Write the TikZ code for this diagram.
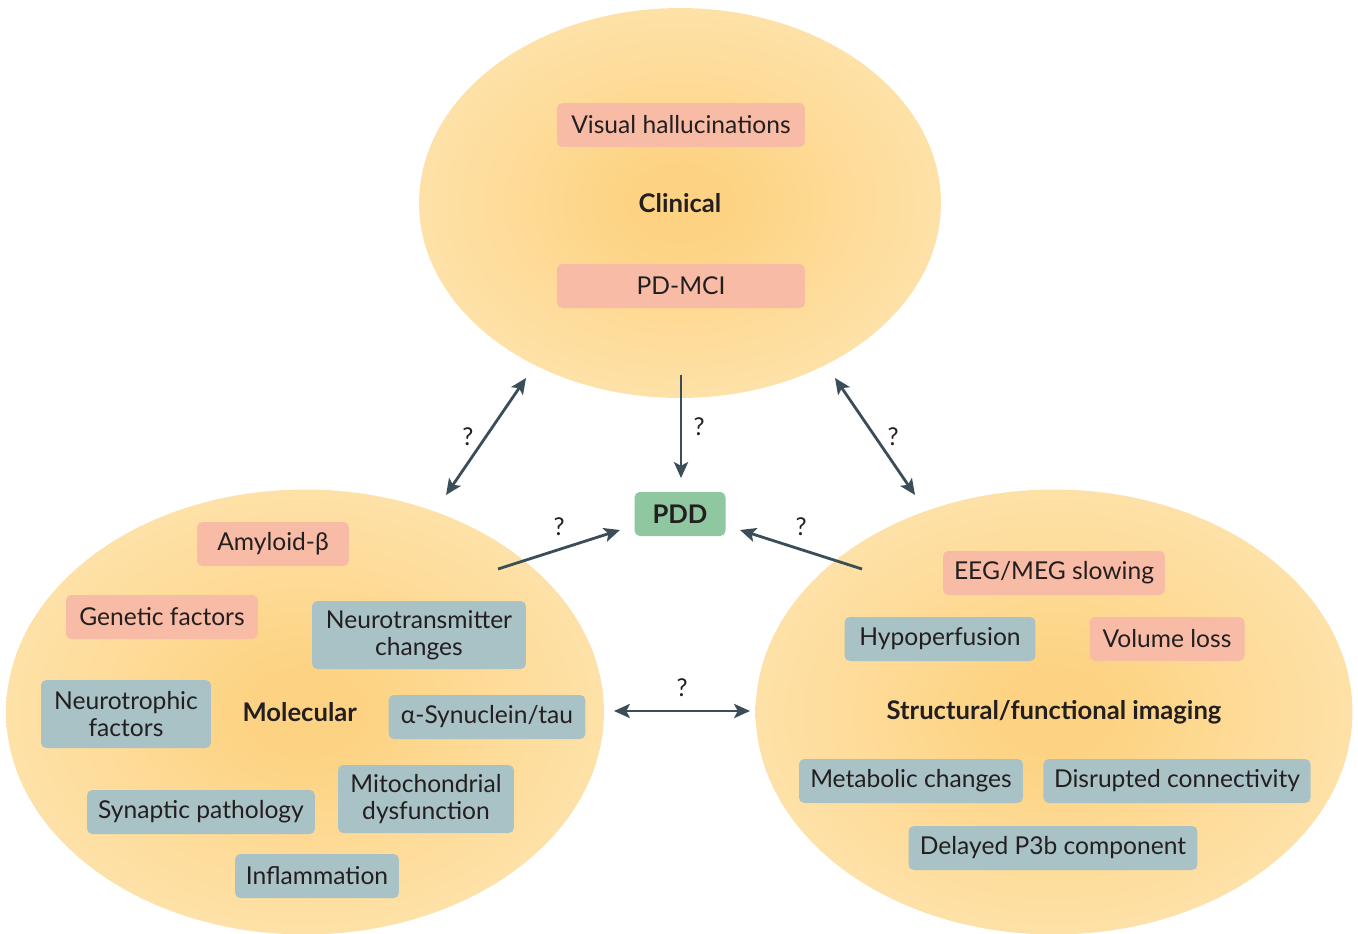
\documentclass[tikz,border=0pt]{standalone}
\usepackage{fontspec}
\setmainfont{Lato}
\usepackage{tikz}
\usetikzlibrary{arrows.meta,shapes.geometric,positioning}

\definecolor{glowIn}{HTML}{FDD383}
\definecolor{glowOut}{HTML}{FFEDC6}
\definecolor{salmon}{HTML}{F8BBA5}
\definecolor{slate}{HTML}{A9C2C5}
\definecolor{pddGreen}{HTML}{8EC7A0}
\definecolor{arrowInk}{HTML}{3B4D58}
\definecolor{ink}{HTML}{231F20}

\pgfdeclareradialshading{glow}{\pgfpoint{0bp}{0bp}}{%
  color(0bp)=(glowIn); color(5bp)=(glowIn);
  color(25bp)=(glowIn!45!glowOut); color(45bp)=(glowOut); color(60bp)=(glowOut)}

\begin{document}
\begin{tikzpicture}[x=0.02cm,y=-0.02cm,
  >={Stealth[length=9pt,width=8pt,inset=2pt]},
  field/.style={
    ellipse,
    shading=glow,
    inner sep=0pt,
    font=\fontsize{14.6}{16}\selectfont\bfseries,
    text=ink,
  },
  tag/.style={
    rounded corners=3pt,
    inner xsep=6pt,
    minimum height=0.88cm,
    align=center,
    font=\fontsize{14}{15.4}\selectfont,
    text=ink,
  },
  redbox/.style={tag, fill=salmon},
  greybox/.style={tag, fill=slate},
  link/.style={<->, line width=1.6pt, draw=arrowInk},
  query/.style={font=\fontsize{14}{16}\selectfont, text=ink},
]
\useasboundingbox (0,0) rectangle (1358,933);

% the three fields
\node [field, minimum width=10.44cm, minimum height=7.8cm] (clinical) at (680,203) {Clinical};
\node [field, minimum width=11.96cm, minimum height=8.9cm] (molecular) at (305,712) {\hspace{-6pt}Molecular};
\node [field, minimum width=11.94cm, minimum height=8.9cm] (imaging) at (1054,712) {Structural/functional imaging};

% outcome
\node [tag, fill=pddGreen, minimum width=1.82cm, font=\fontsize{14.6}{16}\selectfont\bfseries] (pdd) at (680,514) {PDD};

% clinical features
\foreach \nm/\x/\y/\txt in {visHall/681/125/Visual hallucinations, pdMci/681/286/PD-MCI}
  \node [redbox, minimum width=4.96cm] (\nm) at (\x,\y) {\txt};

% molecular features
\node [redbox, minimum width=3.04cm] (amyloid) at (273,544) {Amyloid-β};
\node [redbox, minimum width=3.84cm] (genetic) at (162,617) {Genetic factors};
\foreach \nm/\x/\y/\w/\txt in {%
    neuroTrans/419/635/4.28/{Neurotransmitter\\changes},
    neuroTroph/126/714/3.40/{Neurotrophic\\factors},
    mito/426/799/3.52/{Mitochondrial\\dysfunction}}
  \node [greybox, minimum width=\w cm, minimum height=1.36cm] (\nm) at (\x,\y) {\txt};
\foreach \nm/\x/\y/\w/\txt in {%
    synuclein/487/717/3.94/{α-Synuclein/tau},
    synaptic/201/812/4.56/Synaptic pathology,
    inflam/317/876/3.28/Inflammation}
  \node [greybox, minimum width=\w cm] (\nm) at (\x,\y) {\txt};

% imaging features
\node [redbox, minimum width=4.44cm] (eegMeg) at (1054,573) {EEG/MEG slowing};
\node [redbox, minimum width=3.10cm] (volume) at (1167,639) {Volume loss};
\foreach \nm/\x/\y/\w/\txt in {%
    hypoperf/940/639/3.82/Hypoperfusion,
    metabolic/911/781/4.48/Metabolic changes,
    disrupted/1177/781/5.34/Disrupted connectivity,
    delayed/1053/848/5.78/Delayed P3b component}
  \node [greybox, minimum width=\w cm] (\nm) at (\x,\y) {\txt};

% arrow ends
\coordinate (clinLeft) at (526,378);
\coordinate (molTop) at (446,495);
\coordinate (clinRight) at (835,378);
\coordinate (imgTop) at (915,495);
\coordinate (clinBottom) at (681,375);
\coordinate (pddTop) at (681,478);
\coordinate (molRight) at (498,569);
\coordinate (pddLeft) at (620,530);
\coordinate (imgLeft) at (862,569);
\coordinate (pddRight) at (740,530);
\coordinate (molSide) at (614,711);
\coordinate (imgSide) at (750,711);

\draw [link] (clinLeft) -- node[query, midway, left=3pt] {?} (molTop);
\draw [link] (clinRight) -- node[query, midway, right=3pt] {?} (imgTop);
\draw [link, <-] (pddTop) -- node[query, midway, right=3pt] {?} (clinBottom);
\draw [link, <-] (pddLeft) -- node[query, midway, above=4pt] {?} (molRight);
\draw [link, <-] (pddRight) -- node[query, midway, above=4pt] {?} (imgLeft);
\draw [link] (molSide) -- node[query, midway, above=4pt] {?} (imgSide);
\end{tikzpicture}
\end{document}
